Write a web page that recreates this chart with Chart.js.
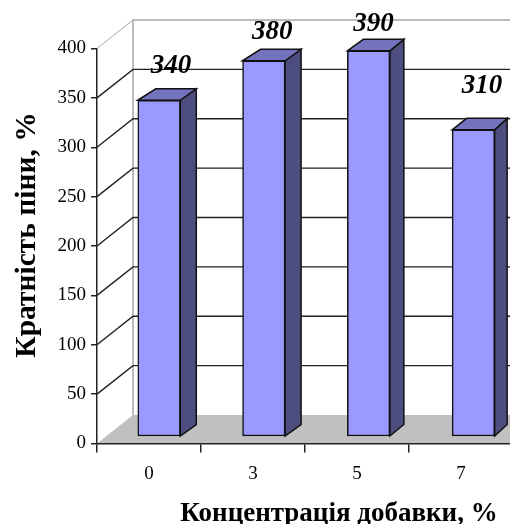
<!DOCTYPE html>
<html>
<head>
<meta charset="utf-8">
<style>html,body{margin:0;padding:0;background:#fff;overflow:hidden;width:510px;height:524px}canvas{display:block}</style>
<script src="https://cdn.jsdelivr.net/npm/chart.js@4"></script>
</head>
<body>
<canvas id="c" width="513" height="524" style="width:513px;height:524px"></canvas>
<script>
const categories = ['0', '3', '5', '7'];
const values = [340, 380, 390, 310];
const positions = [0, 1, 2, 3];
const xTitle = 'Концентрація добавки, %';
const yTitle = 'Кратність піни, %';

const SERIF = '"Liberation Serif", "Times New Roman", serif';
const wall = { dx: 36, dy: -28.5 };
const depthX = [16, 16, 14, 12.5];
const depthY = -11.5;
const labelShift = [[12, -27.5], [8.5, -21.5], [5, -20], [8.5, -37]];

const scene = {
  id: 'scene',
  beforeDraw(chart) {
    const { ctx, chartArea: a, scales: { y } } = chart;
    const y0 = y.getPixelForValue(0), top = y.getPixelForValue(400);
    const W = a.right + 20;
    ctx.save();
    ctx.fillStyle = '#c0c0c0';
    ctx.beginPath();
    ctx.moveTo(a.left, y0);
    ctx.lineTo(a.left + wall.dx, y0 + wall.dy);
    ctx.lineTo(W, y0 + wall.dy);
    ctx.lineTo(W, y0);
    ctx.closePath();
    ctx.fill();
    ctx.lineWidth = 1.5;
    ctx.strokeStyle = '#a6a6a6';
    ctx.beginPath();
    ctx.moveTo(a.left + wall.dx, y0 + wall.dy);
    ctx.lineTo(a.left + wall.dx, top + wall.dy);
    ctx.lineTo(W, top + wall.dy);
    ctx.stroke();
    ctx.beginPath();
    ctx.lineWidth = 1;
    ctx.moveTo(a.left, top);
    ctx.lineTo(a.left + wall.dx, top + wall.dy);
    ctx.stroke();
    ctx.strokeStyle = '#222';
    ctx.lineWidth = 1.4;
    y.ticks.forEach(t => {
      if (t.value <= 0 || t.value >= 400) return;
      const p = y.getPixelForValue(t.value);
      ctx.beginPath();
      ctx.moveTo(a.left, p);
      ctx.lineTo(a.left + wall.dx, p + wall.dy);
      ctx.lineTo(W, p + wall.dy);
      ctx.stroke();
    });
    ctx.restore();
  },
  beforeDatasetsDraw(chart) {
    const { ctx } = chart;
    const meta = chart.getDatasetMeta(0);
    ctx.save();
    ctx.lineWidth = 1.5;
    ctx.strokeStyle = '#111';
    ctx.lineJoin = 'miter';
    meta.data.forEach((b, i) => {
      const l = b.x - b.width / 2, r = b.x + b.width / 2, dx = depthX[i];
      ctx.fillStyle = '#4d4d80';
      ctx.beginPath();
      ctx.moveTo(r, b.y);
      ctx.lineTo(r + dx, b.y + depthY);
      ctx.lineTo(r + dx, b.base + depthY);
      ctx.lineTo(r, b.base);
      ctx.closePath();
      ctx.fill();
      ctx.stroke();
      ctx.fillStyle = '#7373bf';
      ctx.beginPath();
      ctx.moveTo(l, b.y);
      ctx.lineTo(l + dx + 2, b.y + depthY);
      ctx.lineTo(r + dx, b.y + depthY);
      ctx.lineTo(r, b.y);
      ctx.closePath();
      ctx.fill();
      ctx.stroke();
    });
    ctx.restore();
  },
  afterDraw(chart) {
    const { ctx } = chart;
    const meta = chart.getDatasetMeta(0);
    ctx.save();
    ctx.fillStyle = '#000';
    ctx.textAlign = 'center';
    ctx.textBaseline = 'alphabetic';
    ctx.font = 'italic bold 27px ' + SERIF;
    meta.data.forEach((b, i) => {
      ctx.fillText(String(values[i]), b.x + labelShift[i][0], b.y + labelShift[i][1]);
    });
    ctx.font = 'bold 27px ' + SERIF;
    ctx.fillText(xTitle, 339, 521);
    ctx.translate(35, 235);
    ctx.rotate(-Math.PI / 2);
    ctx.font = 'bold 29.5px ' + SERIF;
    ctx.fillText(yTitle, 0, 0);
    ctx.restore();
  }
};

new Chart(document.getElementById('c'), {
  type: 'bar',
  data: {
    datasets: [{
      data: positions.map((p, i) => ({ x: p, y: values[i] })),
      xAxisID: 'x2',
      yAxisID: 'y2',
      backgroundColor: '#9999ff',
      borderColor: '#111',
      borderWidth: 1.5,
      borderSkipped: false,
      barThickness: 42.5,
      clip: false
    }]
  },
  options: {
    responsive: false,
    animation: false,
    devicePixelRatio: 1,
    layout: { padding: { left: 0, top: 48.5, right: 0, bottom: 0 } },
    plugins: { legend: { display: false }, tooltip: { enabled: false }, title: { display: false } },
    scales: {
      x: {
        type: 'category',
        labels: categories,
        offset: true,
        position: 'bottom',
        afterFit(s) { s.height = 80.5; },
        grid: { offset: true, drawOnChartArea: false, drawTicks: true, tickLength: 9, color: '#222', lineWidth: 1.5 },
        border: { display: true, color: '#222', width: 1.5 },
        ticks: { color: '#000', font: { family: SERIF, size: 19 }, padding: 10, maxRotation: 0, autoSkip: false }
      },
      y: {
        type: 'linear',
        position: 'left',
        min: 0,
        max: 400,
        afterFit(s) { s.width = 97; },
        grid: { drawOnChartArea: false, drawTicks: true, tickLength: 6, color: '#222', lineWidth: 1.5 },
        border: { display: true, color: '#222', width: 1.5 },
        ticks: { stepSize: 50, color: '#000', font: { family: SERIF, size: 19 }, padding: 5 }
      },
      x2: { type: 'linear', display: false, min: -0.592, max: 3.378, offset: false, grid: { display: false } },
      y2: { type: 'linear', display: false, min: -7.6, max: 392.4, grid: { display: false } }
    }
  },
  plugins: [scene]
});
</script>
</body>
</html>
